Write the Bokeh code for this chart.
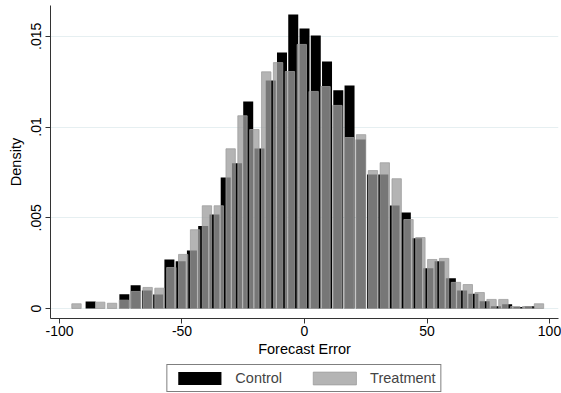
from bokeh.plotting import figure
from bokeh.layouts import column
from bokeh.models import Legend, LegendItem, Range1d, FixedTicker, ColumnDataSource
from bokeh.embed import file_html
from bokeh.resources import INLINE

# ---- data (histogram densities) ----
control_start = -89.6      # left edge of first control bin
control_width = 4.595      # control bin width
control_density = [
    0.00039, 0.0, 0.0, 0.00079, 0.00128, 0.00099, 0.00077, 0.0027, 0.0026, 0.0032,
    0.00454, 0.00518, 0.00722, 0.0080, 0.0114, 0.00882, 0.01256, 0.01411, 0.0162, 0.01543,
    0.01504, 0.01361, 0.01203, 0.01229, 0.00931, 0.00738, 0.00738, 0.00568, 0.00529, 0.00387,
    0.00222, 0.0026, 0.00167, 0.00099, 0.00081, 0.0004, 0.00013, 0.00024, 0.00008, 0.00013,
]
treatment_start = -95.48   # left edge of first treatment bin
treatment_width = 4.84     # treatment bin width
treatment_density = [
    0.00026, 0.0, 0.00035, 0.00029, 0.00046, 0.00094, 0.00116, 0.00112, 0.00226, 0.00298,
    0.00434, 0.00566, 0.00566, 0.0088, 0.01062, 0.00986, 0.01304, 0.01355, 0.01306, 0.01455,
    0.01196, 0.01223, 0.01119, 0.00942, 0.00958, 0.0076, 0.00803, 0.00715, 0.0049, 0.00391,
    0.0027, 0.00276, 0.00144, 0.00132, 0.00088, 0.0005, 0.0005, 0.00011, 0.00011, 0.00026,
]
x_ticks = [-100, -50, 0, 50, 100]
x_tick_labels = ["-100", "-50", "0", "50", "100"]
y_ticks = [0, 0.005, 0.01, 0.015]
y_tick_labels = ["0", ".005", ".01", ".015"]
series_names = ["Control", "Treatment"]
x_title = "Forecast Error"
y_title = "Density"

FONT = "Liberation Sans"
CONTROL_STYLE = dict(fill_color="black", line_color=None)
TREAT_STYLE = dict(fill_color="#9c9c9c", fill_alpha=0.76,
                   line_color="#9c9c9c", line_alpha=0.76, line_width=1)


def bars(start, width, dens, frac):
    left, right, top = [], [], []
    for i, d in enumerate(dens):
        if d <= 0:
            continue
        lo = start + i * width + (1 - frac) / 2 * width
        left.append(lo)
        right.append(lo + frac * width)
        top.append(d)
    return ColumnDataSource(dict(left=left, right=right, top=top, bottom=[0] * len(top)))


p = figure(width=561, height=363, output_backend="svg", toolbar_location=None,
           x_range=Range1d(-103.67, 103.67), y_range=Range1d(-0.000551, 0.016695),
           min_border_left=50, min_border_right=3, min_border_top=5, min_border_bottom=45)
p.outline_line_color = None
p.background_fill_color = "white"
p.border_fill_color = "white"

p.quad(left="left", right="right", top="top", bottom="bottom",
       source=bars(control_start, control_width, control_density, 0.888), **CONTROL_STYLE)
p.quad(left="left", right="right", top="top", bottom="bottom",
       source=bars(treatment_start, treatment_width, treatment_density, 0.79), **TREAT_STYLE)

# grid
p.xgrid.grid_line_color = None
p.ygrid.grid_line_color = "#e6eff1"
p.ygrid.grid_line_width = 1
p.ygrid.ticker = FixedTicker(ticks=y_ticks)

# axes
for ax in (p.xaxis[0], p.yaxis[0]):
    ax.axis_line_color = "#333333"
    ax.major_tick_line_color = "#333333"
    ax.major_tick_out = 5
    ax.major_tick_in = 0
    ax.minor_tick_line_color = None
    ax.major_label_text_font = FONT
    ax.major_label_text_font_size = "14px"
    ax.major_label_text_color = "black"
    ax.axis_label_text_font = FONT
    ax.axis_label_text_font_size = "14.5px"
    ax.axis_label_text_font_style = "normal"
    ax.axis_label_text_color = "black"

p.xaxis.ticker = FixedTicker(ticks=x_ticks)
p.xaxis.major_label_overrides = {t: s for t, s in zip(x_ticks, x_tick_labels)}
p.xaxis.axis_label = x_title
p.xaxis.major_label_standoff = 2
p.xaxis.axis_label_standoff = 2

p.yaxis.ticker = FixedTicker(ticks=y_ticks)
p.yaxis.major_label_overrides = {t: s for t, s in zip(y_ticks, y_tick_labels)}
p.yaxis.major_label_orientation = "vertical"
p.yaxis.axis_label = y_title
p.yaxis.major_label_standoff = 4
p.yaxis.axis_label_standoff = 5

# ---- legend strip below the chart ----
lg = figure(width=561, height=30, output_backend="svg", toolbar_location=None,
            x_range=Range1d(0, 1), y_range=Range1d(0, 1),
            x_axis_location=None, y_axis_location=None,
            min_border_left=50, min_border_right=3,
            min_border_top=0, min_border_bottom=0)
lg.outline_line_color = None
lg.xgrid.visible = False
lg.ygrid.visible = False
lg.background_fill_color = "white"
lg.border_fill_color = "white"
# legend-key renderers: one quad each, placed outside the visible range
offscreen = dict(left=[5], right=[6], top=[6], bottom=[5])
d_c = lg.quad(left="left", right="right", top="top", bottom="bottom",
              source=ColumnDataSource(offscreen), **CONTROL_STYLE)
d_t = lg.quad(left="left", right="right", top="top", bottom="bottom",
              source=ColumnDataSource(offscreen), **TREAT_STYLE)

legend = Legend(items=[LegendItem(label=series_names[0], renderers=[d_c]),
                       LegendItem(label=series_names[1], renderers=[d_t])],
                orientation="horizontal", location="center")
legend.border_line_color = "black"
legend.border_line_width = 1
legend.background_fill_color = "white"
legend.background_fill_alpha = 1
legend.label_text_font = FONT
legend.label_text_font_size = "14.5px"
legend.glyph_width = 54
legend.glyph_height = 16
legend.label_height = 16
legend.label_standoff = 9
legend.spacing = 25
legend.padding = 5
legend.margin = 0
lg.add_layout(legend)

layout = column(p, lg, spacing=0)
open("out.html", "w").write(file_html(layout, INLINE))
